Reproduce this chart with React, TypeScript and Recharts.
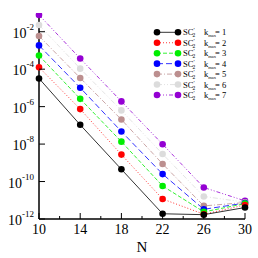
import React from 'react';
import { LineChart, Line, XAxis, YAxis } from 'recharts';

const Ns = [10, 14, 18, 22, 26, 30];
const xTicks = [10, 12, 14, 16, 18, 20, 22, 24, 26, 28, 30];
const xMajor = [10, 14, 18, 22, 26, 30];
const yTicks = [1e-12, 1e-10, 1e-8, 1e-6, 1e-4, 1e-2];
const yExp = ['-12', '-10', '-8', '-6', '-4', '-2'];

const k1 = [3.2e-5, 1.07e-7, 4.5e-10, 1.9e-12, 1.7e-12, 4.1e-12];
const k2 = [1.26e-4, 7.4e-7, 2.75e-9, 1.17e-11, 1.8e-12, 5.6e-12];
const k3 = [5.4e-4, 2.6e-6, 1.35e-8, 5.8e-11, 2.4e-12, 6.6e-12];
const k4 = [1.86e-3, 1.02e-5, 4.7e-8, 2.5e-10, 3.3e-12, 7.1e-12];
const k5 = [5.9e-3, 3.4e-5, 2.04e-7, 8.7e-10, 5.0e-12, 7.6e-12];
const k6 = [2.3e-2, 1.07e-4, 6.3e-7, 2.95e-9, 1.6e-11, 7.9e-12];
const k7 = [7.9e-2, 3.7e-4, 1.9e-6, 9.8e-9, 4.8e-11, 9.3e-12];

const seriesKeys = ['k1', 'k2', 'k3', 'k4', 'k5', 'k6', 'k7'];
const seriesVals = [k1, k2, k3, k4, k5, k6, k7];
const kmaxLabels = ['1', '2', '3', '4', '5', '6', '7'];
const colors = ['#000000', '#ff0000', '#00ee00', '#0000ff', '#bc8f8f', '#dcdcdc', '#9400d3'];
const dashes = ['', '1 2', '4 2', '6 3', '5 2 1 2', '5 2 1 2 1 2', '4 2 1 2 1 2'];

const data = Ns.map((n, i) => {
  const row: any = { N: n };
  seriesKeys.forEach((k, j) => { row[k] = seriesVals[j][i]; });
  return row;
});

const FONT = '"Liberation Serif", "Times New Roman", serif';

const BottomTick = (props: any) => {
  const { x, y, payload } = props;
  const major = xMajor.includes(payload.value);
  return (
    <g>
      <line x1={x} x2={x} y1={y} y2={y - (major ? 6 : 3)} stroke="#000" strokeWidth={1} />
      {major && (
        <text x={x} y={y + 15} textAnchor="middle" fontFamily={FONT} fontSize={14} fill="#000">
          {payload.value}
        </text>
      )}
    </g>
  );
};

const TopTick = (props: any) => {
  const { x, y, payload } = props;
  const major = xMajor.includes(payload.value);
  return <line x1={x} x2={x} y1={y} y2={y + (major ? 6 : 3)} stroke="#000" strokeWidth={1} />;
};

const LeftTick = (props: any) => {
  const { x, y, index } = props;
  return (
    <g>
      <line x1={x} x2={x + 6} y1={y} y2={y} stroke="#000" strokeWidth={1} />
      <text x={x - 5} y={y + 6} textAnchor="end" fontFamily={FONT} fontSize={14} fill="#000">
        <tspan>10</tspan>
        <tspan fontSize={9} dy={-8}>{yExp[index]}</tspan>
      </text>
    </g>
  );
};

const RightTick = (props: any) => {
  const { x, y } = props;
  return <line x1={x} x2={x - 6} y1={y} y2={y} stroke="#000" strokeWidth={1} />;
};

const LegendOverlay = () => (
  <svg width={258} height={258} style={{ position: 'absolute', left: 0, top: 0, pointerEvents: 'none' }}>
    {seriesKeys.map((k, i) => {
      const y = 32.3 + i * 10.45;
      return (
        <g key={k}>
          <line x1={157} x2={178} y1={y} y2={y} stroke={colors[i]} strokeWidth={0.8} strokeDasharray={dashes[i] || undefined} />
          <circle cx={157} cy={y} r={3.3} fill={colors[i]} />
          <circle cx={178} cy={y} r={3.3} fill={colors[i]} />
          <text x={183} y={y + 3} fontFamily={FONT} fontSize={8.5} fill="#000">
            <tspan>SC</tspan>
            <tspan fontSize={5.5} dy={-3}>′</tspan>
            <tspan fontSize={5.5} dx={-2} dy={5}>2</tspan>
            <tspan x={204} dy={-2}>k</tspan>
            <tspan fontSize={4.5} dy={2}>max</tspan>
            <tspan x={215} dy={-2}>= {kmaxLabels[i]}</tspan>
          </text>
        </g>
      );
    })}
  </svg>
);

export default function App() {
  return (
    <div style={{ position: 'absolute', left: 0, top: 0, width: 258, height: 258, background: '#fff' }}>
      <LineChart width={258} height={258} data={data} margin={{ top: 13, right: 13, bottom: 0, left: 0 }}>
        <XAxis
          xAxisId="b"
          dataKey="N"
          type="number"
          domain={[10, 30]}
          ticks={xTicks}
          interval={0}
          height={39}
          tickSize={0}
          tickMargin={0}
          tickLine={false}
          axisLine={{ stroke: '#000', strokeWidth: 1.5 }}
          tick={<BottomTick />}
          label={{ value: 'N', position: 'insideBottom', offset: 6, fontFamily: FONT, fontSize: 15, fill: '#000' }}
        />
        <XAxis
          xAxisId="t"
          orientation="top"
          dataKey="N"
          type="number"
          domain={[10, 30]}
          ticks={xTicks}
          interval={0}
          height={0}
          tickSize={0}
          tickMargin={0}
          tickLine={false}
          axisLine={{ stroke: '#000', strokeWidth: 1.5 }}
          tick={<TopTick />}
        />
        <YAxis
          yAxisId="l"
          type="number"
          scale="log"
          domain={[1e-12, 1e-1]}
          allowDataOverflow
          ticks={yTicks}
          interval={0}
          width={39}
          tickSize={0}
          tickMargin={0}
          tickLine={false}
          axisLine={{ stroke: '#000', strokeWidth: 1.5 }}
          tick={<LeftTick />}
        />
        <YAxis
          yAxisId="r"
          orientation="right"
          type="number"
          scale="log"
          domain={[1e-12, 1e-1]}
          allowDataOverflow
          ticks={yTicks}
          interval={0}
          width={0}
          tickSize={0}
          tickMargin={0}
          tickLine={false}
          axisLine={{ stroke: '#000', strokeWidth: 1.5 }}
          tick={<RightTick />}
        />
        {seriesKeys.slice().reverse().map((k) => {
          const i = seriesKeys.indexOf(k);
          return (
            <Line
              key={k}
              xAxisId="b"
              yAxisId="l"
              dataKey={k}
              type="linear"
              stroke={colors[i]}
              strokeWidth={0.8}
              strokeDasharray={dashes[i] || undefined}
              dot={{ r: 3.3, fill: colors[i], stroke: 'none' }}
              activeDot={false}
              isAnimationActive={false}
            />
          );
        })}
      </LineChart>
      <LegendOverlay />
    </div>
  );
}
